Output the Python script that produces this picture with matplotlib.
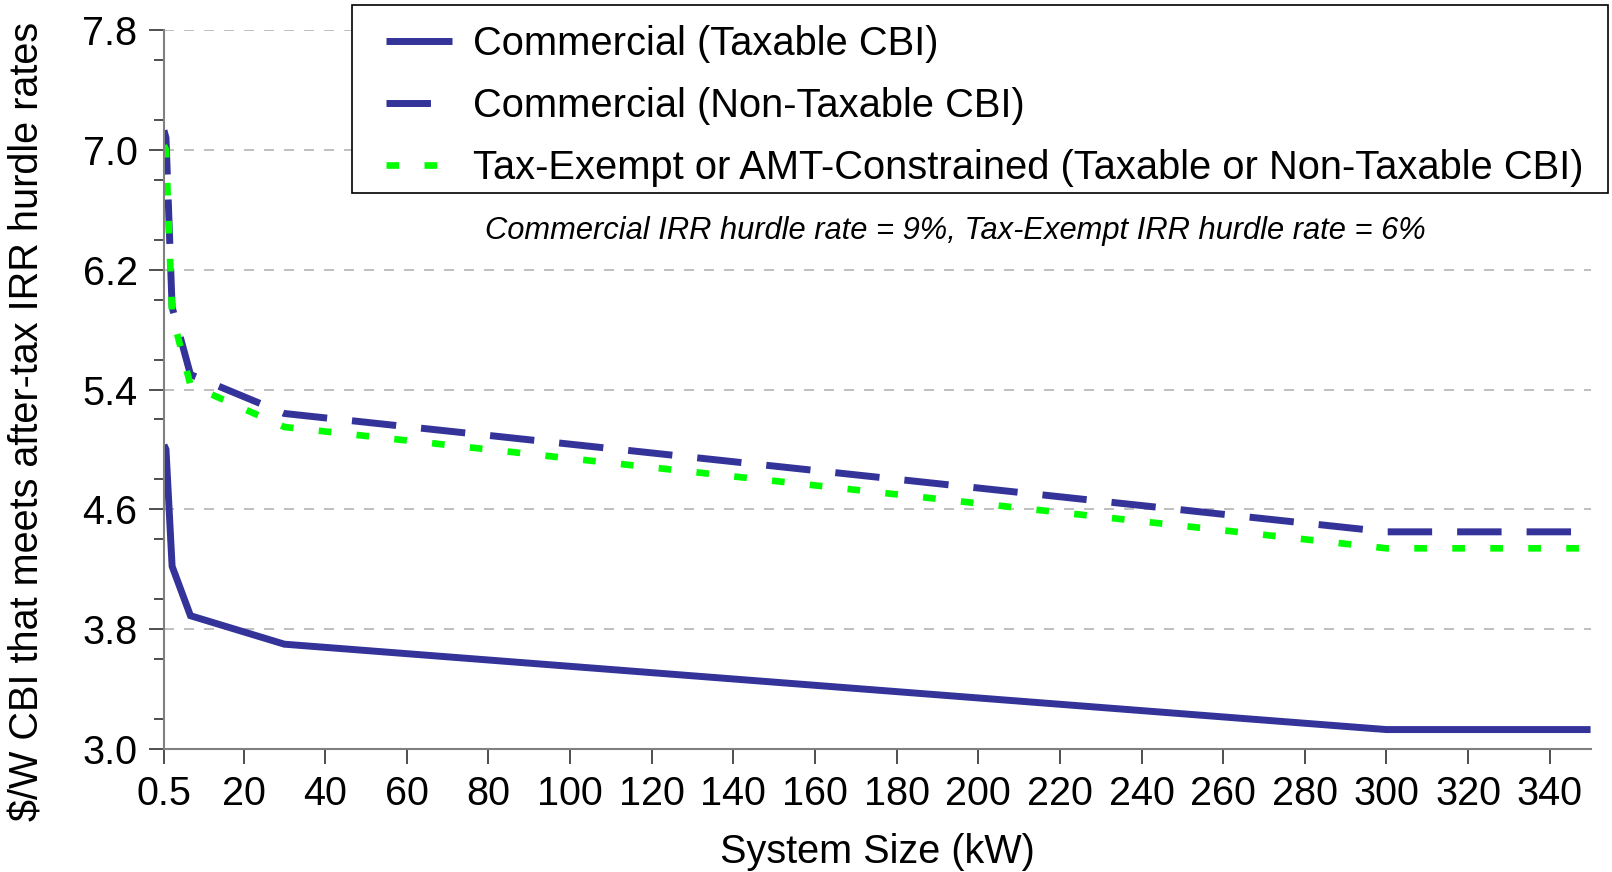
import numpy as np
import matplotlib.pyplot as plt
from matplotlib.patches import Rectangle
from matplotlib.ticker import MultipleLocator

plt.rcParams['font.family'] = ['Liberation Sans', 'DejaVu Sans']

# system size (kW)
size_kw = [0.5, 1, 2.5, 7, 30, 300, 350]

# $/W CBI that meets the after-tax IRR hurdle rates
comm_taxable = [5.03, 5.00, 4.22, 3.89, 3.70, 3.13, 3.13]
comm_nontaxable = [7.13, 7.08, 5.95, 5.50, 5.24, 4.45, 4.45]
tax_exempt = [7.03, 7.00, 5.90, 5.43, 5.15, 4.34, 4.34]

labels = ["Commercial (Taxable CBI)",
          "Commercial (Non-Taxable CBI)",
          "Tax-Exempt or AMT-Constrained (Taxable or Non-Taxable CBI)"]

x_ticks = [0.5] + list(range(20, 341, 20))
x_ticklabels = ["0.5"] + [str(v) for v in range(20, 341, 20)]

navy = '#333399'
green = '#00ff00'

W, H = 1612, 872
fig = plt.figure(figsize=(W / 100, H / 100), dpi=100)
ax = fig.add_axes([0.1017, 0.141, 0.885, 0.8246])

ax.plot(size_kw, comm_taxable, color=navy, lw=5, solid_capstyle='butt',
        solid_joinstyle='miter', label=labels[0])
ax.plot(size_kw, comm_nontaxable, color=navy, lw=5, dashes=(6.4, 3.6),
        dash_capstyle='butt', label=labels[1])
ax.plot(size_kw, tax_exempt, color=green, lw=4.8, dashes=(1.9, 3.8),
        dash_capstyle='butt', label=labels[2])

ax.set_xlim(0.5, 350)
ax.set_ylim(3.0, 7.8)
ax.set_xticks(x_ticks)
ax.set_xticklabels(x_ticklabels)
ax.set_yticks(np.arange(3.0, 7.81, 0.8))
ax.set_yticklabels([f"{v:.1f}" for v in np.arange(3.0, 7.81, 0.8)])
ax.yaxis.set_minor_locator(MultipleLocator(0.4))

ax.tick_params(axis='both', which='major', labelsize=28.5, length=11,
               width=1.2, color='#303030', pad=8)
ax.tick_params(axis='y', which='minor', length=7, width=1.2, color='#303030')

for y in [3.8, 4.6, 5.4, 6.2, 7.0, 7.8]:
    ax.axhline(y, color='#b4b4b4', lw=1.2, dashes=(6, 6), zorder=0)

for s in ['top', 'right']:
    ax.spines[s].set_visible(False)
for s in ['left', 'bottom']:
    ax.spines[s].set_color('#808080')
    ax.spines[s].set_linewidth(1.5)

ax.set_xlabel("System Size (kW)", fontsize=28.5, labelpad=14)
fig.text(28 / W, 1 - 421 / H,
         "$/W CBI that meets after-tax IRR hurdle rates",
         rotation=90, fontsize=28.5, ha='center', va='center')

ax.text(955.6 / W, 1 - 231 / H,
        "Commercial IRR hurdle rate = 9%, Tax-Exempt IRR hurdle rate = 6%",
        transform=fig.transFigure, fontsize=22.2, style='italic',
        ha='center', va='center')

# legend frame drawn separately so it can be wider than the entries
box = Rectangle((351.6 / W, 1 - 193 / H), (1608 - 351.6) / W, 188 / H,
                transform=fig.transFigure, facecolor='white',
                edgecolor='black', lw=1.2, zorder=5, clip_on=False)
ax.add_patch(box)
leg = ax.legend(loc='upper left', bbox_to_anchor=(385.5 / W, 1 - 25 / H),
                bbox_transform=fig.transFigure, fontsize=28.7, frameon=False,
                handlelength=1.67, handletextpad=0.52,
                borderpad=0, labelspacing=0.6, borderaxespad=0)
leg.set_zorder(6)

fig.savefig('out.png', dpi=100)
